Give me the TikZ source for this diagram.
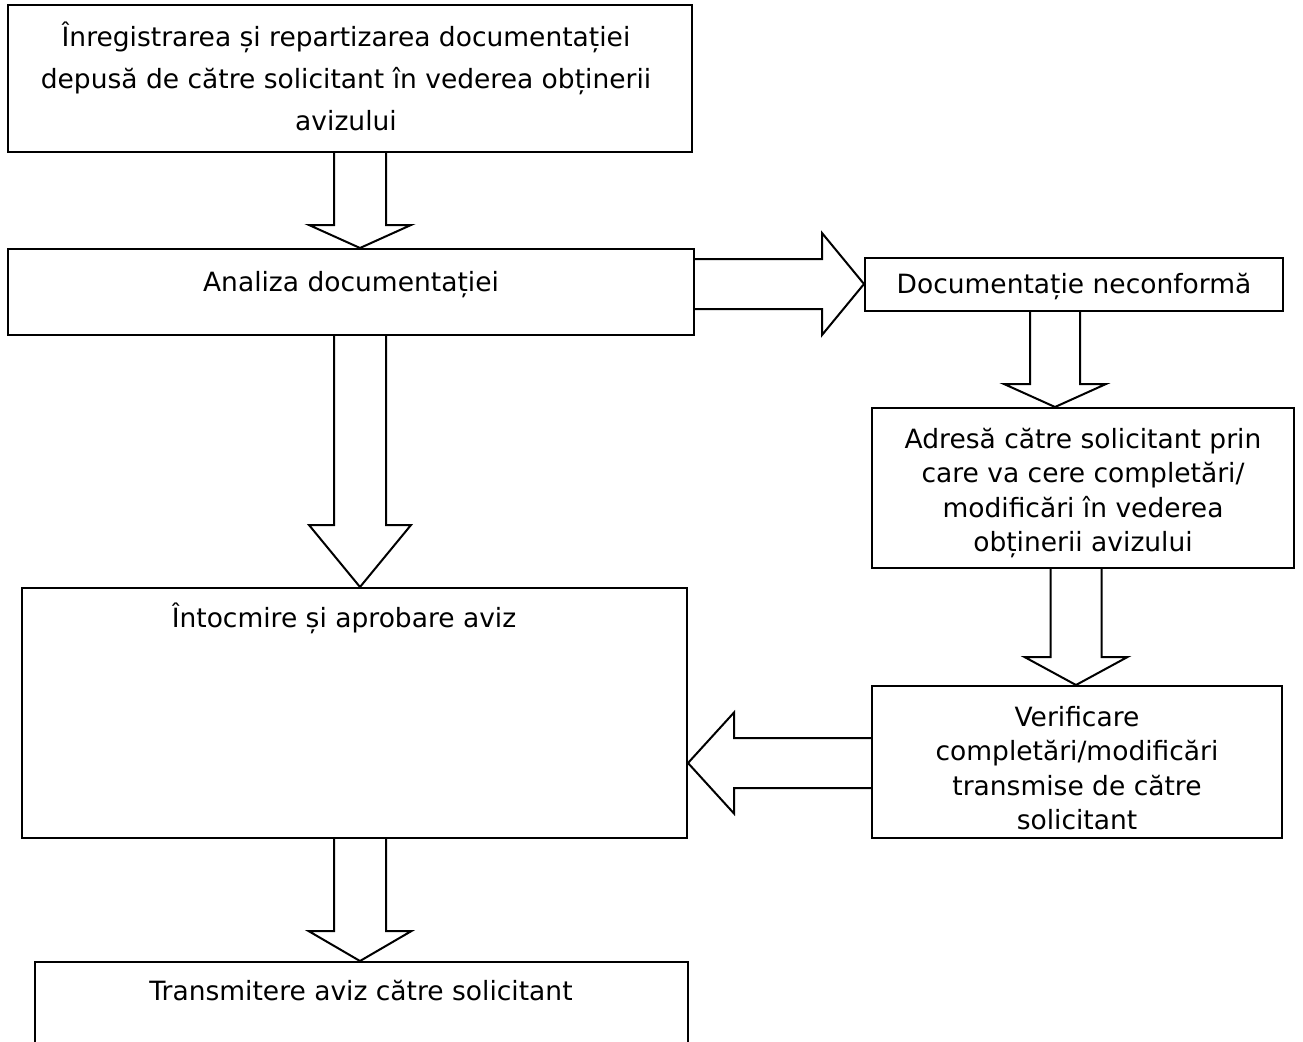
\documentclass[tikz,border=0pt]{standalone}
\usepackage{fontspec}
\setmainfont{DejaVu Sans}
\usetikzlibrary{calc}
\newcommand\dnarrow[5]{\draw[blk] ($(#1)+(-#3,0)$) -- ($(#2)+(-#3,-#5)$) -- ($(#2)+(-#4,-#5)$) -- (#2) -- ($(#2)+(#4,-#5)$) -- ($(#2)+(#3,-#5)$) -- ($(#1)+(#3,0)$);}
\newcommand\rtarrow[5]{\draw[blk] ($(#1)+(0,-#3)$) -- ($(#2)+(-#5,-#3)$) -- ($(#2)+(-#5,-#4)$) -- (#2) -- ($(#2)+(-#5,#4)$) -- ($(#2)+(-#5,#3)$) -- ($(#1)+(0,#3)$);}
\newcommand\lfarrow[5]{\draw[blk] ($(#1)+(0,-#3)$) -- ($(#2)+(#5,-#3)$) -- ($(#2)+(#5,-#4)$) -- (#2) -- ($(#2)+(#5,#4)$) -- ($(#2)+(#5,#3)$) -- ($(#1)+(0,#3)$);}
\begin{document}
\begin{tikzpicture}[x=1pt,y=-1pt,
  box/.style={draw, line width=2pt, rectangle, inner sep=0pt},
  lbl/.style={font=\fontsize{26.5}{34.3}\selectfont, align=center, inner sep=0pt},
  blk/.style={draw, line width=2pt, line join=miter}]
\useasboundingbox (0,0) rectangle (1303,1041);
\clip (0,0) rectangle (1303,1041);
% boxes
\node[box, minimum width=684, minimum height=147] (b1) at (350,78.5) {};
\node[box, minimum width=686, minimum height=86] (b2) at (351,292) {};
\node[box, minimum width=418, minimum height=53] (b3) at (1074,284.5) {};
\node[box, minimum width=422, minimum height=160] (b4) at (1083,488) {};
\node[box, minimum width=665, minimum height=250] (b5) at (354.5,713) {};
\node[box, minimum width=410, minimum height=152] (b6) at (1077,762) {};
\node[box, minimum width=653, minimum height=118] (b7) at (361.5,1021) {};
% texts
\node[lbl, font=\fontsize{26.5}{42}\selectfont] (t1) at (346,76) {Înregistrarea și repartizarea documentației\\depusă de către solicitant în vederea obținerii\\avizului};
\node[lbl, anchor=base] (t2) at (351,291) {Analiza documentației};
\node[lbl, anchor=base] (t3) at (1074,293.5) {Documentație neconformă};
\node[lbl] (t4) at (1083,493) {Adresă către solicitant prin\\care va cere completări/\\modificări în vederea\\obținerii avizului};
\node[lbl, anchor=base] (t5) at (344,627) {Întocmire și aprobare aviz};
\node[lbl] (t6) at (1077,768) {Verificare\\completări/modificări\\transmise de către\\solicitant};
\node[lbl, anchor=base] (t7) at (361,1000) {Transmitere aviz către solicitant};
% arrow end points
\coordinate (a1s) at (360,0 |- b1.south);
\coordinate (a1t) at (360,0 |- b2.north);
\coordinate (a2s) at (b2.east |- 0,284);
\coordinate (a2t) at (b3.west |- 0,284);
\coordinate (a3s) at (1055,0 |- b3.south);
\coordinate (a3t) at (1055,0 |- b4.north);
\coordinate (a4s) at (360,0 |- b2.south);
\coordinate (a4t) at (360,0 |- b5.north);
\coordinate (a5s) at (1076,0 |- b4.south);
\coordinate (a5t) at (1076,0 |- b6.north);
\coordinate (a6s) at (b6.west |- 0,763);
\coordinate (a6t) at (b5.east |- 0,763);
\coordinate (a7s) at (360,0 |- b5.south);
\coordinate (a7t) at (360,0 |- b7.north);
% block arrows
\dnarrow{a1s}{a1t}{26}{51}{23}
\rtarrow{a2s}{a2t}{25}{51}{42}
\dnarrow{a3s}{a3t}{25}{51}{23}
\dnarrow{a4s}{a4t}{26}{51}{62}
\dnarrow{a5s}{a5t}{25.5}{51.5}{28}
\lfarrow{a6s}{a6t}{25}{50.5}{46}
\dnarrow{a7s}{a7t}{26}{51.5}{30}
\end{tikzpicture}
\end{document}
